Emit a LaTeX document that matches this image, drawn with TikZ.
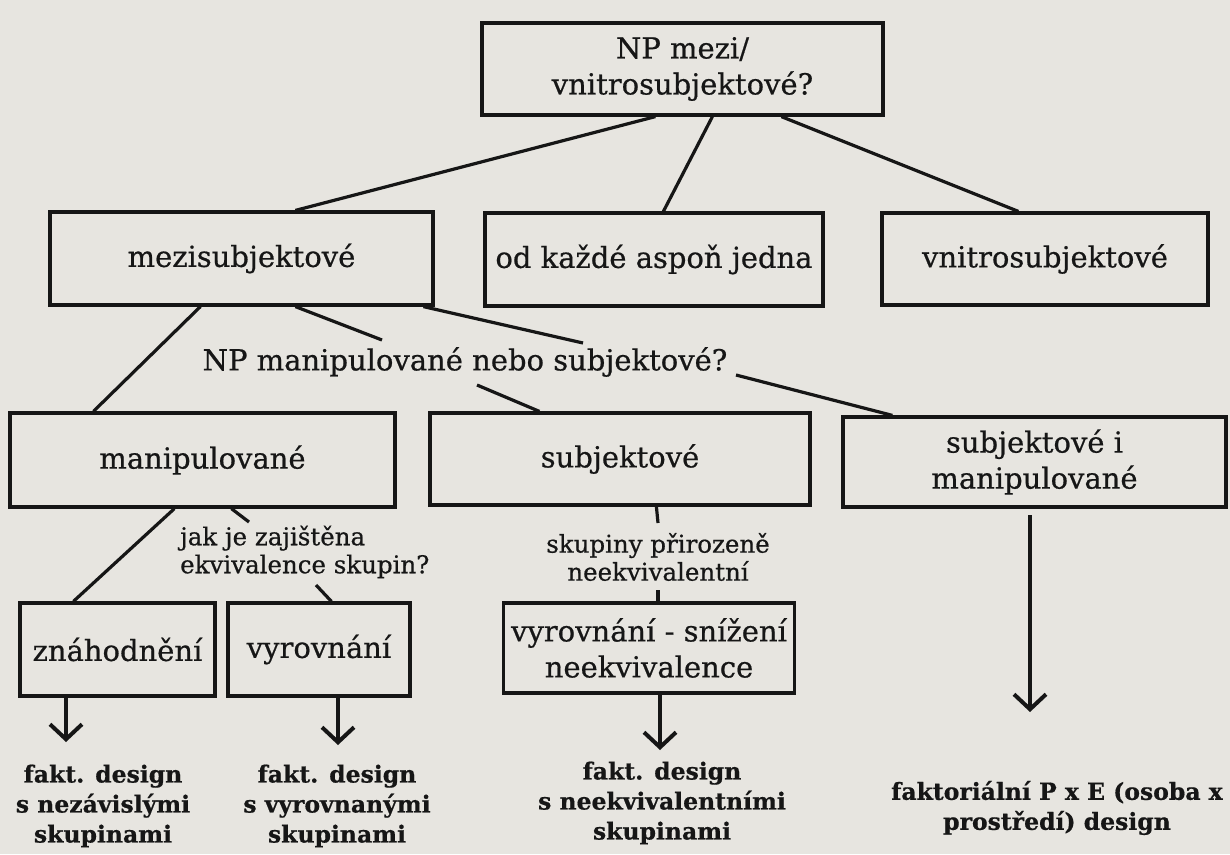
\documentclass[tikz,border=0pt]{standalone}
\usepackage{fontspec}
\setmainfont{DejaVu Serif}[FakeBold=0.6]
\newfontfamily\resfont{DejaVu Serif}[FakeBold=0.8]
\usetikzlibrary{arrows.meta,calc}
\definecolor{paper}{RGB}{231,229,224}
\definecolor{ink}{RGB}{22,22,22}
\begin{document}
\begin{tikzpicture}[x=1pt,y=-1pt,
 box/.style={draw=ink, line width=3.2pt, inner sep=0pt, align=center, text=ink, font=\fontsize{29}{36}\selectfont},
 lbl/.style={text=ink, inner sep=0pt, font=\fontsize{29}{36}\selectfont},
 small/.style={text=ink, inner sep=0pt, font=\fontsize{24.5}{28}\selectfont},
 res/.style={text=ink, inner sep=0pt, align=center, font=\bfseries\fontsize{23.5}{30}\selectfont},
 conn/.style={draw=ink, line width=3.2pt},
 arr/.style={conn, -{Straight Barb[length=15pt,width=32pt,line width=4pt]}}
]
\fill[paper] (0,0) rectangle (1230,854);
\useasboundingbox (0,0) rectangle (1230,854);

% boxes
\node[box, minimum width=401pt, minimum height=92pt] (top) at (682.5,69) {NP mezi/\\vnitrosubjektové?};
\node[box, minimum width=383pt, minimum height=93pt] (mezi) at (241.5,258.5) {mezisubjektové};
\node[box, minimum width=338pt, minimum height=93pt] (kazde) at (654,259.5) {od každé aspoň jedna};
\node[box, minimum width=326pt, minimum height=92pt] (vnitro) at (1045,259) {vnitrosubjektové};
\node[box, minimum width=385pt, minimum height=94pt] (manip) at (202.5,460) {manipulované};
\node[box, minimum width=380pt, minimum height=92pt] (subj) at (620,459) {subjektové};
\node[box, minimum width=383pt, minimum height=90pt] (subjman) at (1034.5,462) {subjektové i\\manipulované};
\node[box, minimum width=195pt, minimum height=93pt] (znah) at (117.5,649.5) {znáhodnění};
\node[box, minimum width=182pt, minimum height=93pt] (vyrov) at (319,649.5) {vyrovnání};
\node[box, minimum width=291pt, minimum height=90pt] (vyrsniz) at (649,648) {vyrovnání - snížení\\neekvivalence};

% labels
\node[lbl] (q1) at (465,362) {NP manipulované nebo subjektové?};
\node[small, align=left, anchor=west] (q2) at (180,552) {jak je zajištěna\\ekvivalence skupin?};
\node[small, align=center] (q3) at (658,557) {skupiny přirozeně\\neekvivalentní};

% results
\node[res] (r1) at (103,806) {fakt. design\\s nezávislými\\skupinami};
\node[res] (r2) at (337,806) {fakt. design\\s vyrovnanými\\skupinami};
\node[res] (r3) at (662,803) {fakt. design\\s neekvivalentními\\skupinami};
\node[res] (r4) at (1057,808) {faktoriální P x E (osoba x\\prostředí) design};

% free ends near labels
\coordinate (q1a) at (382,340);
\coordinate (q1b) at (583,343);
\coordinate (q1c) at (477,385);
\coordinate (q1d) at (736,375);
\coordinate (q2a) at (249,522);
\coordinate (q2b) at (316,585);
\coordinate (q3a) at (658,523);
\coordinate (q3b) at (658,590);
\coordinate (t1) at (66,742);
\coordinate (t2) at (338,745);
\coordinate (t3) at (660,750);
\coordinate (t4) at (1030,712);
\coordinate (s4) at (1030,515);

% connectors
\draw[conn] ([xshift=175pt]top.south west) -- ([xshift=247pt]mezi.north west);
\draw[conn] ([xshift=232pt]top.south west) -- ([xshift=180pt]kazde.north west);
\draw[conn] ([xshift=301pt]top.south west) -- ([xshift=138pt]vnitro.north west);
\draw[conn] ([xshift=152pt]mezi.south west) -- ([xshift=85pt]manip.north west);
\draw[conn] ([xshift=247pt]mezi.south west) -- (q1a);
\draw[conn] ([xshift=375pt]mezi.south west) -- (q1b);
\draw[conn] (q1c) -- ([xshift=111pt]subj.north west);
\draw[conn] (q1d) -- ([xshift=51pt]subjman.north west);
\draw[conn] ([xshift=166pt]manip.south west) -- ([xshift=55pt]znah.north west);
\draw[conn] ([xshift=223pt]manip.south west) -- (q2a);
\draw[conn] (q2b) -- ([xshift=105pt]vyrov.north west);
\draw[conn] ([xshift=228pt]subj.south west) -- (q3a);
\draw[conn] (q3b) -- (q3b |- vyrsniz.north);
\draw[arr] (znah.south -| t1) -- (t1);
\draw[arr] (vyrov.south -| t2) -- (t2);
\draw[arr] (vyrsniz.south -| t3) -- (t3);
\draw[arr] (s4) -- (t4);
\end{tikzpicture}
\end{document}
